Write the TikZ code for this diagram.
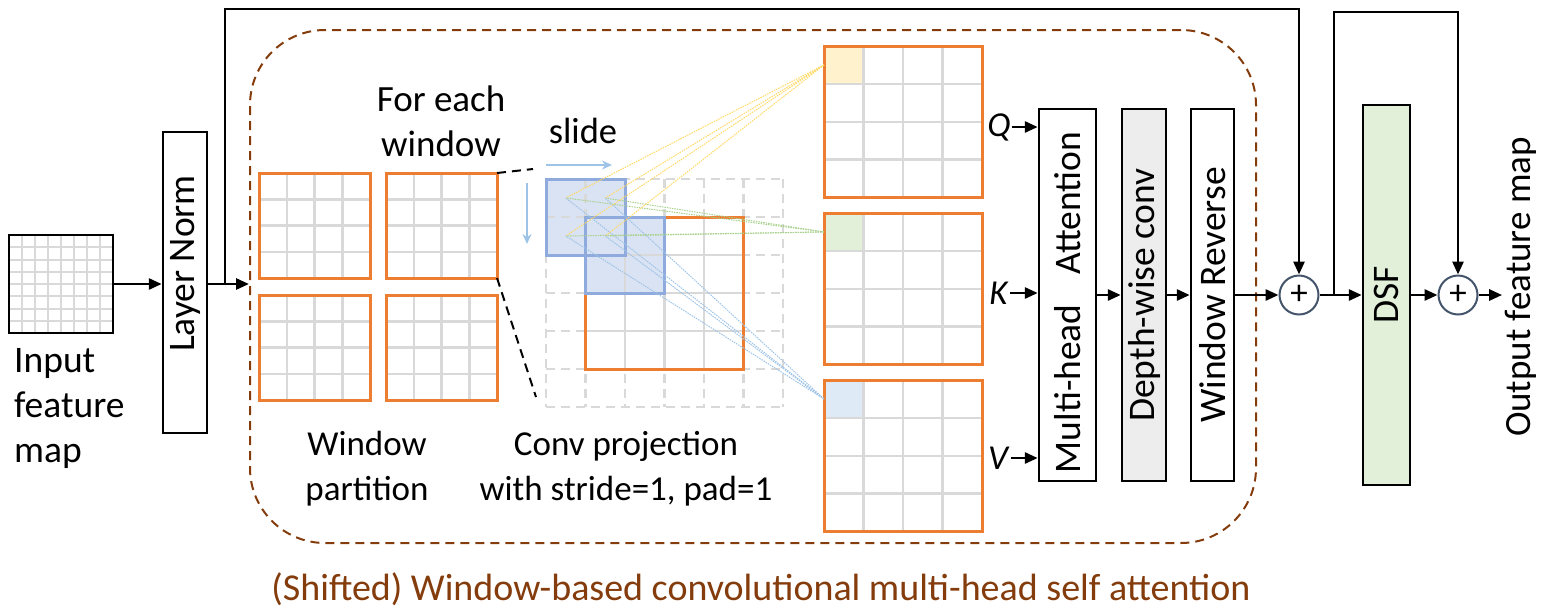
\documentclass[tikz,border=0pt]{standalone}
\usepackage{fontspec}
\setmainfont{Carlito}
\usepackage{graphicx}
\usetikzlibrary{arrows.meta}

\definecolor{winorange}{HTML}{ED7D31}
\definecolor{gridgray}{HTML}{D9D9D9}
\definecolor{kernblue}{HTML}{8FAADC}
\definecolor{kernfill}{HTML}{DAE3F3}
\definecolor{qfill}{HTML}{FFF2CC}
\definecolor{kfill}{HTML}{E2F0D9}
\definecolor{vfill}{HTML}{DEEBF7}
\definecolor{qline}{HTML}{FFD966}
\definecolor{kline}{HTML}{A9D18E}
\definecolor{vline}{HTML}{9DC3E6}
\definecolor{attnbrown}{HTML}{843C0C}
\definecolor{convgray}{HTML}{EDEDED}
\definecolor{dsfgreen}{HTML}{E2F0D9}
\definecolor{plusblue}{HTML}{44546A}

\begin{document}
\begin{tikzpicture}[x=1pt, y=-1pt, font=\fontsize{35}{45}\selectfont,
    >={Triangle[length=13pt, width=11pt]},
    block/.style={draw, line width=2.5pt, inner sep=0pt, font=\fontsize{37.5}{45}\selectfont},
    flow/.style={->, line width=2.8pt},
    winbox/.style={draw=winorange, line width=3pt, inner sep=0pt, outer sep=0pt},
    gridline/.style={draw=gridgray, line width=2.5pt},
    padline/.style={draw=gridgray, line width=2.5pt, dash pattern=on 9pt off 6pt},
    kernline/.style={draw=kernblue, line width=3pt},
    qkvcell/.style={inner sep=0pt, outer sep=0pt, minimum width=39.5, minimum height=37.875},
    ray/.style={line width=1pt, dash pattern=on 1.5pt off 1pt},
    zoomline/.style={line width=2pt, dash pattern=on 9pt off 6pt},
    slidearrow/.style={draw=vline, line width=1.5pt, -{Stealth[length=10pt, width=9pt]}},
    plusnode/.style={circle, draw=plusblue, line width=2pt, minimum size=39, inner sep=0pt}]
  \useasboundingbox (0,0) rectangle (1544,614);

  % dashed attention block
  \node[draw=attnbrown, line width=2pt, dash pattern=on 9pt off 6pt, rounded corners=75pt,
        minimum width=1006, minimum height=513, inner sep=0pt] (swa) at (753,286.5) {};

  % input feature map
  \foreach \i in {1,...,7} {
    \draw[gridline, line width=2pt] (9+\i*13,235) -- (9+\i*13,333);
    \draw[gridline, line width=2pt] (9,235+\i*12.25) -- (113,235+\i*12.25);
  }
  \node[block, minimum width=104, minimum height=98] (in) at (61,284) {};
  \node[anchor=north west, align=left, inner sep=0pt, font=\fontsize{37.5}{45}\selectfont] (intxt) at (14,348) {Input\\feature\\map};

  \node[block, minimum width=44, minimum height=301] (ln) at (185,282.5) {\rotatebox{90}{\hspace{38pt}Layer Norm}};

  % window partition
  \foreach \x/\y/\n in {259/173/wa, 386/173/wb, 259/295/wc, 386/295/wd} {
    \foreach \i in {1,2,3} {
      \draw[gridline] (\x+\i*27.75,\y) -- (\x+\i*27.75,\y+105);
      \draw[gridline] (\x,\y+\i*26.25) -- (\x+111,\y+\i*26.25);
    }
    \node[winbox, minimum width=111, minimum height=105] (\n) at (\x+55.5,\y+52.5) {};
  }

  % conv projection with padding
  \node[inner sep=0pt, outer sep=0pt, minimum width=237, minimum height=228] (conv) at (664.5,293) {};
  \fill[kernfill] (546,179) rectangle (625,255);
  \fill[kernfill] (585.5,217) rectangle (664.5,293);
  \foreach \i in {0,...,6} {
    \draw[padline] (546+\i*39.5,179) -- (546+\i*39.5,407);
    \draw[padline] (546,179+\i*38) -- (783,179+\i*38);
  }
  \foreach \i in {1,2,3} {
    \draw[gridline] (585.5+\i*39.5,217) -- (585.5+\i*39.5,369);
    \draw[gridline] (585.5,217+\i*38) -- (743.5,217+\i*38);
  }
  \node[winbox, minimum width=158, minimum height=152] (pad) at (664.5,293) {};
  \draw[kernline] (546,179) rectangle (625,255);
  \draw[kernline] (585.5,217) rectangle (664.5,293);
  \coordinate (k11) at (565.75,198);
  \coordinate (k12) at (605.25,198);
  \coordinate (k21) at (565.75,236);
  \coordinate (k22) at (605.25,236);
  \draw[slidearrow] ([yshift=14pt]conv.north west) -- ++(66,0);
  \draw[slidearrow] ([xshift=-19pt, yshift=-4pt]conv.north west) -- ++(0,61);

  % Q, K, V maps
  \foreach \y/\n/\col in {46/q/qfill, 213/k/kfill, 380/v/vfill} {
    \node[qkvcell, fill=\col] (cell\n) at (843.75,\y+18.94) {};
    \foreach \i in {1,2,3} {
      \draw[gridline] (824+\i*39.5,\y) -- (824+\i*39.5,\y+151.5);
      \draw[gridline] (824,\y+\i*37.875) -- (982,\y+\i*37.875);
    }
    \node[winbox, minimum width=158, minimum height=151.5] (mat\n) at (903,\y+75.75) {};
  }
  \foreach \p in {k11,k12,k21,k22} {
    \draw[ray, draw=qline] (cellq.west) -- (\p);
    \draw[ray, draw=kline] (cellk.west) -- (\p);
    \draw[ray, draw=vline] (cellv.west) -- (\p);
  }

  \coordinate (zt) at (533,169);
  \coordinate (zb) at (536,397);
  \draw[zoomline] (wb.north east) -- (zt);
  \draw[zoomline] (wb.south east) -- (zb);

  % attention, reverse, DSF
  \node[block, minimum width=57, minimum height=372] (mha) at (1067.5,295) {\rotatebox{90}{Multi-head\hspace{30pt}Attention\hspace{15pt}}};
  \node[block, fill=convgray, minimum width=44, minimum height=372] (dwc) at (1144,295) {\rotatebox{90}{Depth-wise conv}};
  \node[block, minimum width=43, minimum height=372] (wr) at (1212.5,295) {\rotatebox{90}{Window Reverse}};
  \node[inner sep=1pt] (qlab) at (999,127) {\textit{Q}};
  \node[inner sep=1pt] (klab) at (999,293) {\textit{K}};
  \node[inner sep=1pt] (vlab) at (999,458) {\textit{V}};
  \node[plusnode] (plusa) at (1299,295) {+};
  \node[block, fill=dsfgreen, minimum width=47, minimum height=380] (dsf) at (1386.5,295) {\rotatebox{90}{DSF}};
  \node[plusnode] (plusb) at (1458,295) {+};
  \node[inner sep=3pt, font=\fontsize{37}{45}\selectfont] (out) at (1521,287) {\rotatebox{90}{Output feature map}};

  \draw[flow] (in.east) -- (in.east -| ln.west);
  \draw[flow] (in.east -| ln.east) -- (in.east -| swa.west);
  \coordinate (skipa) at (225,284);
  \coordinate (topa) at (225,9);
  \draw[flow] (skipa) -- (topa) -| (plusa);
  \draw[flow] (qlab) -- (qlab -| mha.west);
  \draw[flow] (klab) -- (klab -| mha.west);
  \draw[flow] (vlab) -- (vlab -| mha.west);
  \draw[flow] (mha) -- (dwc);
  \draw[flow] (dwc) -- (wr);
  \draw[flow] (wr) -- (plusa);
  \draw[flow] (plusa) -- (dsf);
  \draw[flow] (dsf) -- (plusb);
  \draw[flow] (plusb) -- (plusb -| out.west);
  \coordinate (skipb) at (1334,295);
  \coordinate (topb) at (1334,12);
  \draw[flow] (skipb) -- (topb) -| (plusb);

  % texts
  \node[anchor=north, align=center, inner sep=0pt, font=\fontsize{37}{45}\selectfont] (fortxt) at (441,86) {For each\\window};
  \node[anchor=base, inner sep=0pt, font=\fontsize{36.5}{45}\selectfont] (slidetxt) at (583,143) {slide};
  \node[anchor=north, align=center, inner sep=0pt] (wptxt) at (367,431) {Window\\partition};
  \node[anchor=north, align=center, inner sep=0pt] (cptxt) at (626,431) {Conv projection\\with stride=1, pad=1};
  \node[anchor=base, text=attnbrown, inner sep=0pt, font=\fontsize{38}{45}\selectfont] (swatxt) at (761,600) {(Shifted) Window-based convolutional multi-head self attention};
\end{tikzpicture}
\end{document}
